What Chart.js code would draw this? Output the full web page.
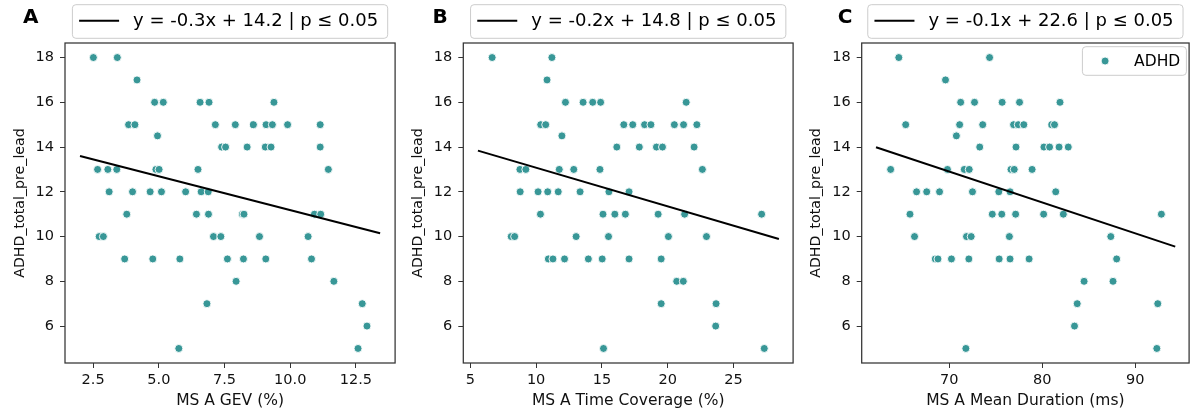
<!DOCTYPE html>
<html>
<head>
<meta charset="utf-8">
<script src="https://cdn.jsdelivr.net/npm/chart.js@4.4.1/dist/chart.umd.min.js"></script>
<style>
  html, body { margin: 0; padding: 0; background: #ffffff; }
  body { width: 1194px; height: 418px; position: relative; overflow: hidden; }
  canvas { position: absolute; top: 0; }
</style>
</head>
<body>
<canvas id="cA" width="400" height="418" style="left:0px"></canvas>
<canvas id="cB" width="400" height="418" style="left:398px"></canvas>
<canvas id="cC" width="397" height="418" style="left:797px"></canvas>
<script>
// ---------------- DATA ----------------
const yTicks = [6, 8, 10, 12, 14, 16, 18];
const yTitle = 'ADHD_total_pre_lead';
const scatterLabel = 'ADHD';

// Panel A: MS A GEV (%)
const gevX = [2.51, 3.42, 4.17,
  4.84, 5.17, 6.57, 6.91, 9.38,
  3.85, 4.09, 7.15, 7.91, 8.60, 9.08, 9.32, 9.90, 11.14,
  4.95,
  7.39, 7.54, 8.36, 9.05, 9.27, 11.14,
  2.67, 3.06, 3.40, 4.89, 5.01, 6.49, 11.45,
  3.11, 4.00, 4.67, 5.10, 6.02, 6.61, 6.88,
  3.78, 6.43, 6.89, 8.18, 8.24, 10.92, 11.16,
  2.73, 2.89, 7.08, 7.36, 8.83, 10.68,
  3.70, 4.77, 5.80, 7.61, 8.22, 9.07, 10.81,
  7.94, 11.66,
  6.83, 12.74,
  12.92,
  5.76, 12.58];
const gevY = [18, 18, 17,
  16, 16, 16, 16, 16,
  15, 15, 15, 15, 15, 15, 15, 15, 15,
  14.5,
  14, 14, 14, 14, 14, 14,
  13, 13, 13, 13, 13, 13, 13,
  12, 12, 12, 12, 12, 12, 12,
  11, 11, 11, 11, 11, 11, 11,
  10, 10, 10, 10, 10, 10,
  9, 9, 9, 9, 9, 9, 9,
  8, 8,
  7, 7,
  6,
  5, 5];
const gevLine = [{x: 2.0, y: 13.60}, {x: 13.42, y: 10.15}];
const gevTicks = [2.5, 5.0, 7.5, 10.0, 12.5];
const gevTickLabels = ['2.5', '5.0', '7.5', '10.0', '12.5'];
const gevEq = 'y = -0.3x + 14.2 | p \u2264 0.05';

// Panel B: MS A Time Coverage (%)
const tcX = [6.66, 11.20, 10.83,
  12.23, 13.57, 14.30, 14.90, 21.40,
  10.35, 10.73, 16.66, 17.34, 18.24, 18.72, 20.50, 21.20, 22.21,
  11.96,
  16.13, 17.84, 19.14, 19.60, 22.00,
  8.77, 9.22, 11.76, 12.86, 14.85, 22.63,
  8.79, 10.15, 10.88, 11.68, 13.34, 15.53, 17.06,
  10.33, 15.08, 15.98, 16.78, 19.27, 21.28, 27.13,
  8.11, 8.37, 13.04, 15.50, 20.05, 22.94,
  10.93, 11.28, 12.16, 13.97, 15.02, 17.06, 19.50,
  20.68, 21.18,
  19.50, 23.67,
  23.64,
  15.12, 27.33];
const tcY = [18, 18, 17,
  16, 16, 16, 16, 16,
  15, 15, 15, 15, 15, 15, 15, 15, 15,
  14.5,
  14, 14, 14, 14, 14,
  13, 13, 13, 13, 13, 13,
  12, 12, 12, 12, 12, 12, 12,
  11, 11, 11, 11, 11, 11, 11,
  10, 10, 10, 10, 10, 10,
  9, 9, 9, 9, 9, 9, 9,
  8, 8,
  7, 7,
  6,
  5, 5];
const tcLine = [{x: 5.58, y: 13.84}, {x: 28.44, y: 9.89}];
const tcTicks = [5, 10, 15, 20, 25];
const tcTickLabels = ['5', '10', '15', '20', '25'];
const tcEq = 'y = -0.2x + 14.8 | p \u2264 0.05';

// Panel C: MS A Mean Duration (ms)
const mdX = [64.59, 74.35, 69.61,
  71.24, 72.73, 75.70, 77.57, 81.92,
  65.33, 71.13, 73.61, 76.93, 77.43, 78.03, 81.04, 81.33,
  70.78,
  73.29, 77.19, 80.19, 80.80, 81.82, 82.81,
  63.71, 69.82, 71.63, 72.16, 76.65, 77.00, 78.92,
  66.50, 67.59, 68.97, 72.51, 75.34, 76.55, 81.46,
  65.79, 74.64, 75.66, 77.15, 80.16, 82.28, 92.82,
  66.28, 71.87, 72.37, 76.48, 87.38,
  68.51, 68.80, 70.25, 72.12, 75.38, 76.55, 78.60, 88.01,
  84.51, 87.62,
  83.77, 92.43,
  83.48,
  71.80, 92.33];
const mdY = [18, 18, 17,
  16, 16, 16, 16, 16,
  15, 15, 15, 15, 15, 15, 15, 15,
  14.5,
  14, 14, 14, 14, 14, 14,
  13, 13, 13, 13, 13, 13, 13,
  12, 12, 12, 12, 12, 12, 12,
  11, 11, 11, 11, 11, 11, 11,
  10, 10, 10, 10, 10,
  9, 9, 9, 9, 9, 9, 9, 9,
  8, 8,
  7, 7,
  6,
  5, 5];
const mdLine = [{x: 62.14, y: 13.99}, {x: 94.31, y: 9.55}];
const mdTicks = [70, 80, 90];
const mdTickLabels = ['70', '80', '90'];
const mdEq = 'y = -0.1x + 22.6 | p \u2264 0.05';

// ---------------- STYLE ----------------
const TEAL = '#389797';
const FONT = '"DejaVu Sans", "Liberation Sans", sans-serif';
Chart.defaults.font.family = FONT;
Chart.defaults.color = '#000';

function roundRect(ctx, x, y, w, h, r) {
  ctx.beginPath();
  ctx.moveTo(x + r, y);
  ctx.lineTo(x + w - r, y);
  ctx.arcTo(x + w, y, x + w, y + r, r);
  ctx.lineTo(x + w, y + h - r);
  ctx.arcTo(x + w, y + h, x + w - r, y + h, r);
  ctx.lineTo(x + r, y + h);
  ctx.arcTo(x, y + h, x, y + h - r, r);
  ctx.lineTo(x, y + r);
  ctx.arcTo(x, y, x + r, y, r);
  ctx.closePath();
}

const decor = {
  id: 'panelDecor',
  afterDraw(chart, args, opts) {
    const ctx = chart.ctx;
    const a = chart.chartArea;
    ctx.save();
    // spines (full box)
    ctx.strokeStyle = '#333';
    ctx.lineWidth = 1.25;
    ctx.strokeRect(a.left, a.top, a.right - a.left, a.bottom - a.top);

    // panel letter
    ctx.fillStyle = '#000';
    ctx.font = 'bold 20px ' + FONT;
    ctx.textAlign = 'center';
    ctx.textBaseline = 'middle';
    ctx.fillText(opts.letter, opts.letterX, 17.5);

    // regression legend box (above the axes)
    const lineDs = chart.data.datasets[1];
    ctx.font = '18px ' + FONT;
    const tw = ctx.measureText(lineDs.label).width;
    const w = 6.7 + 40 + 14 + tw + 9.5;
    const cx = (a.left + a.right) / 2;
    const bx = cx - w / 2, by = 4.7, bh = 33.6;
    roundRect(ctx, bx, by, w, bh, 3.5);
    ctx.fillStyle = 'rgba(255,255,255,0.8)';
    ctx.fill();
    ctx.strokeStyle = '#cccccc';
    ctx.lineWidth = 1;
    ctx.stroke();
    ctx.strokeStyle = '#000';
    ctx.lineWidth = 2;
    ctx.beginPath();
    ctx.moveTo(bx + 6.7, by + 16);
    ctx.lineTo(bx + 46.7, by + 16);
    ctx.stroke();
    ctx.fillStyle = '#000';
    ctx.textAlign = 'left';
    ctx.textBaseline = 'middle';
    ctx.fillText(lineDs.label, bx + 60.7, by + 16.5);

    // point legend (inside axes)
    if (opts.pointLegend) {
      const ptDs = chart.data.datasets[0];
      const lx = a.right - 106.7, ly = a.top + 3.7, lw = 104, lh = 28.6;
      roundRect(ctx, lx, ly, lw, lh, 3.5);
      ctx.fillStyle = 'rgba(255,255,255,0.8)';
      ctx.fill();
      ctx.strokeStyle = '#cccccc';
      ctx.lineWidth = 1;
      ctx.stroke();
      ctx.beginPath();
      ctx.arc(lx + 22.7, ly + 14.3, 4.0, 0, Math.PI * 2);
      ctx.fillStyle = TEAL;
      ctx.fill();
      ctx.strokeStyle = '#ffffff';
      ctx.lineWidth = 0.9;
      ctx.stroke();
      ctx.fillStyle = '#000';
      ctx.font = '15.5px ' + FONT;
      ctx.textAlign = 'left';
      ctx.textBaseline = 'middle';
      ctx.fillText(ptDs.label, lx + 51.7, ly + 14.8);
    }
    ctx.restore();
  }
};

function makeChart(id, p) {
  const pts = p.xs.map((x, i) => ({x: x, y: p.ys[i]}));
  return new Chart(document.getElementById(id), {
    type: 'scatter',
    data: {
      datasets: [
        {
          label: scatterLabel,
          data: pts,
          backgroundColor: TEAL,
          borderColor: '#ffffff',
          borderWidth: 0.9,
          pointRadius: 4.0,
          pointHoverRadius: 4.0,
          order: 2
        },
        {
          type: 'line',
          label: p.eq,
          data: p.line,
          borderColor: '#000000',
          borderWidth: 2,
          pointRadius: 0,
          showLine: true,
          fill: false,
          order: 1
        }
      ]
    },
    options: {
      responsive: false,
      animation: false,
      events: [],
      layout: { padding: { left: 0, right: p.padRight, top: 43, bottom: 0 } },
      plugins: {
        legend: { display: false },
        tooltip: { enabled: false },
        panelDecor: { letter: p.letter, letterX: p.letterX, pointLegend: p.pointLegend }
      },
      scales: {
        x: {
          type: 'linear',
          min: p.xMin, max: p.xMax,
          afterBuildTicks: s => { s.ticks = p.xTicks.map(v => ({value: v})); },
          afterFit: s => { s.height = 55; },
          ticks: {
            callback: (v, i) => p.xTickLabels[i],
            font: { size: 14.5 }, color: '#111', padding: 3.6, maxRotation: 0, autoSkip: false
          },
          grid: { drawOnChartArea: false, drawTicks: true, tickLength: 5, tickColor: '#333', tickWidth: 1 },
          border: { display: false },
          title: { display: true, text: p.xTitle, font: { size: 15.5 }, color: '#111', padding: { top: 0, bottom: 8.2 } }
        },
        y: {
          type: 'linear',
          min: 4.35, max: 18.65,
          afterBuildTicks: s => { s.ticks = yTicks.map(v => ({value: v})); },
          afterFit: s => { s.width = p.yWidth; },
          ticks: {
            callback: v => String(v),
            font: { size: 14.5 }, color: '#111', padding: 6, autoSkip: false
          },
          grid: { drawOnChartArea: false, drawTicks: true, tickLength: 5, tickColor: '#333', tickWidth: 1 },
          border: { display: false },
          title: { display: true, text: yTitle, font: { size: 14.2 }, color: '#111', padding: { top: p.yWidth - 45 - 8.5, bottom: 0 } }
        }
      }
    },
    plugins: [decor]
  });
}

makeChart('cA', {
  xs: gevX, ys: gevY, line: gevLine, eq: gevEq,
  xTicks: gevTicks, xTickLabels: gevTickLabels, xTitle: 'MS A GEV (%)',
  xMin: 1.43, xMax: 13.99, yWidth: 65, padRight: 3.3,
  letter: 'A', letterX: 30.8, pointLegend: false
});
makeChart('cB', {
  xs: tcX, ys: tcY, line: tcLine, eq: tcEq,
  xTicks: tcTicks, xTickLabels: tcTickLabels, xTitle: 'MS A Time Coverage (%)',
  xMin: 4.47, xMax: 29.52, yWidth: 65.3, padRight: 3,
  letter: 'B', letterX: 42, pointLegend: false
});
makeChart('cC', {
  xs: mdX, ys: mdY, line: mdLine, eq: mdEq,
  xTicks: mdTicks, xTickLabels: mdTickLabels, xTitle: 'MS A Mean Duration (ms)',
  xMin: 60.6, xMax: 95.8, yWidth: 64.7, padRight: 1.3,
  letter: 'C', letterX: 48, pointLegend: true
});
</script>
</body>
</html>
